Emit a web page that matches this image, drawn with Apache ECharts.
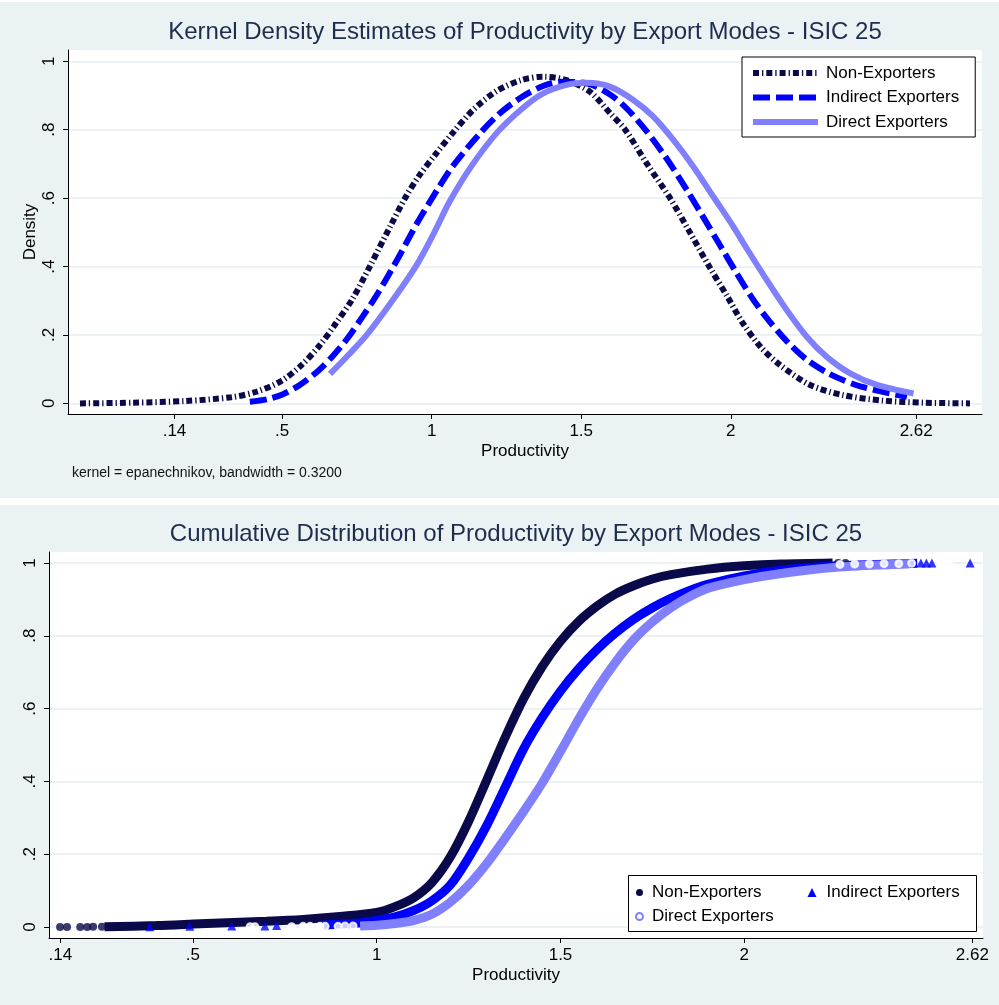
<!DOCTYPE html>
<html>
<head>
<meta charset="utf-8">
<script src="https://cdn.jsdelivr.net/npm/echarts@6/dist/echarts.min.js"></script>
<style>
html,body{margin:0;padding:0;background:#fff;}
#c{width:999px;height:1005px;}
</style>
</head>
<body>
<div id="c"></div>
<script>
// ---- tick values / labels ----
const xTickValues = [0.14, 0.5, 1, 1.5, 2, 2.62];
const xTickLabels = ['.14', '.5', '1', '1.5', '2', '2.62'];
const yTickValues = [0, 0.2, 0.4, 0.6, 0.8, 1];
const yTickLabels = ['0', '.2', '.4', '.6', '.8', '1'];

const seriesNames = ['Non-Exporters', 'Indirect Exporters', 'Direct Exporters'];

// ---- kernel density estimates [productivity, density] ----
const densNonExporters = [
  [-0.176,0.000],[0.000,0.002],[0.176,0.007],[0.330,0.018],[0.414,0.034],[0.498,0.066],
  [0.565,0.112],[0.626,0.170],[0.682,0.237],[0.735,0.305],[0.793,0.400],[0.860,0.515],
  [0.911,0.600],[0.960,0.668],[1.010,0.725],[1.070,0.790],[1.139,0.858],[1.217,0.913],
  [1.300,0.945],[1.373,0.955],[1.451,0.945],[1.529,0.911],[1.600,0.845],[1.647,0.800],
  [1.720,0.700],[1.797,0.600],[1.860,0.505],[1.928,0.400],[1.990,0.310],[2.040,0.235],
  [2.100,0.165],[2.165,0.112],[2.265,0.054],[2.376,0.024],[2.510,0.008],[2.650,0.002],[2.800,0.000]
];
const densIndirect = [
  [0.392,0.005],[0.450,0.012],[0.503,0.027],[0.559,0.054],[0.620,0.095],[0.671,0.140],
  [0.720,0.192],[0.770,0.255],[0.820,0.322],[0.888,0.425],[0.950,0.525],[1.017,0.622],
  [1.072,0.695],[1.162,0.790],[1.228,0.848],[1.300,0.895],[1.370,0.927],[1.429,0.940],
  [1.518,0.936],[1.596,0.903],[1.652,0.862],[1.719,0.795],[1.786,0.715],[1.853,0.624],
  [1.909,0.543],[1.964,0.462],[2.020,0.380],[2.070,0.310],[2.120,0.250],[2.187,0.182],
  [2.254,0.128],[2.333,0.085],[2.433,0.050],[2.589,0.019]
];
const densDirect = [
  [0.660,0.086],[0.720,0.140],[0.783,0.200],[0.870,0.302],[0.950,0.405],[1.010,0.502],
  [1.060,0.590],[1.130,0.690],[1.217,0.790],[1.300,0.860],[1.373,0.906],[1.451,0.931],
  [1.518,0.937],[1.596,0.926],[1.674,0.887],[1.741,0.838],[1.808,0.770],[1.875,0.692],
  [1.942,0.604],[2.009,0.516],[2.054,0.452],[2.120,0.361],[2.187,0.273],[2.254,0.195],
  [2.321,0.136],[2.399,0.088],[2.489,0.054],[2.611,0.029]
];

// ---- cumulative distributions [productivity, share] ----
const cdfNonExporters = [
  [0.26,0.001],[0.40,0.004],[0.52,0.009],[0.70,0.016],[0.80,0.021],[0.90,0.029],[1.00,0.040],
  [1.05,0.056],[1.10,0.080],[1.15,0.122],[1.20,0.192],[1.25,0.290],[1.30,0.405],[1.35,0.522],
  [1.40,0.628],[1.45,0.715],[1.50,0.785],[1.55,0.840],[1.60,0.882],[1.65,0.915],[1.70,0.938],
  [1.75,0.956],[1.80,0.968],[1.90,0.983],[2.00,0.992],[2.10,0.997],[2.24,1.000]
];
const cdfNonExportersTail = [
  [0.139,0.000],[0.158,0.000],[0.194,0.000],[0.213,0.000],[0.229,0.001],[0.253,0.001],
  [2.255,1.000],[2.275,1.000]
];
const cdfIndirect = [
  [0.85,0.005],[0.95,0.011],[1.00,0.018],[1.05,0.028],[1.10,0.045],[1.15,0.072],[1.20,0.115],
  [1.25,0.190],[1.30,0.280],[1.35,0.385],[1.40,0.490],[1.45,0.575],[1.50,0.648],[1.55,0.710],
  [1.60,0.763],[1.65,0.808],[1.70,0.846],[1.75,0.877],[1.80,0.903],[1.85,0.924],[1.90,0.941],
  [2.00,0.964],[2.10,0.980],[2.25,0.992],[2.40,0.997],[2.47,0.999]
];
const cdfIndirectTail = [
  [0.383,0.001],[0.492,0.002],[0.606,0.003],[0.696,0.003],[0.728,0.004],
  [2.480,1.000],[2.495,1.000],[2.510,1.000],[2.614,1.000]
];
const cdfDirect = [
  [0.955,0.003],[1.00,0.005],[1.05,0.010],[1.10,0.018],[1.15,0.035],[1.20,0.068],[1.25,0.115],
  [1.30,0.175],[1.35,0.245],[1.40,0.318],[1.45,0.395],[1.50,0.482],[1.55,0.572],[1.60,0.655],
  [1.65,0.728],[1.70,0.790],[1.75,0.838],[1.80,0.877],[1.85,0.907],[1.90,0.930],[2.00,0.954],
  [2.10,0.971],[2.25,0.988],[2.40,0.996],[2.45,0.998]
];
const cdfDirectTail = [
  [0.656,0.001],[0.669,0.001],[0.769,0.001],[0.800,0.002],[0.819,0.002],[0.846,0.002],
  [0.860,0.002],[0.895,0.002],[0.914,0.003],[0.936,0.003],
  [2.26,0.996],[2.30,0.997],[2.34,0.997],[2.38,0.998],[2.42,0.998],[2.455,0.999],
  [2.533,0.999],[2.555,1.000]
];

const cNon = '#0a0a4a', cInd = '#0000ff', cDir = '#8080ff';
const bgPanel = '#eaf2f3';
const font = 'Liberation Sans, Arial, Helvetica, sans-serif';

function pick(vals, labels) {
  return function (v) {
    for (let i = 0; i < vals.length; i++) if (Math.abs(vals[i] - v) < 1e-7) return labels[i];
    return '';
  };
}

function xAxisCfg(gridIndex, min, max, nameGap) {
  return {
    type: 'value', gridIndex: gridIndex, min: min, max: max,
    name: 'Productivity', nameLocation: 'middle', nameGap: nameGap,
    nameTextStyle: { fontSize: 17, color: '#000', fontFamily: font },
    axisLine: { show: true, onZero: false, lineStyle: { color: '#000', width: 1 } },
    axisTick: { show: true, length: 5, customValues: xTickValues, lineStyle: { color: '#000' } },
    axisLabel: { customValues: xTickValues, formatter: pick(xTickValues, xTickLabels),
      fontSize: 17, color: '#000', fontFamily: font, margin: 9 },
    splitLine: { show: false }
  };
}
function yAxisCfg(gridIndex, min, max, name, margin) {
  return {
    type: 'value', gridIndex: gridIndex, min: min, max: max,
    name: name, nameLocation: 'middle', nameGap: 29, nameMoveOverlap: false,
    nameTextStyle: { fontSize: 17, color: '#000', fontFamily: font },
    axisLine: { show: true, onZero: false, lineStyle: { color: '#000', width: 1 } },
    axisTick: { show: true, length: 5, customValues: yTickValues, lineStyle: { color: '#000' } },
    axisLabel: { customValues: yTickValues, formatter: pick(yTickValues, yTickLabels),
      rotate: 90, fontSize: 17, color: '#000', fontFamily: font, margin: margin },
    splitLine: { show: true, lineStyle: { color: '#e6eef0', width: 1.5 } }
  };
}

const chart = echarts.init(document.getElementById('c'), null, { renderer: 'canvas' });
chart.setOption({
  backgroundColor: '#ffffff',
  animation: false,
  graphic: [
    { type: 'rect', z: -10, shape: { x: 0, y: 2, width: 999, height: 496 }, style: { fill: bgPanel } },
    { type: 'rect', z: -10, shape: { x: 0, y: 505, width: 999, height: 500 }, style: { fill: bgPanel } },
    { type: 'rect', z: 3, shape: { x: 628.5, y: 875.5, width: 348, height: 56 },
      style: { fill: '#fff', stroke: '#000', lineWidth: 1 } }
  ],
  title: [
    { text: 'Kernel Density Estimates of Productivity by Export Modes - ISIC 25',
      left: 525, top: 20, textAlign: 'center', padding: 0,
      textStyle: { fontSize: 24, fontWeight: 'normal', color: '#1f2d4d', fontFamily: font } },
    { text: 'Cumulative Distribution of Productivity by Export Modes - ISIC 25',
      left: 516, top: 522, textAlign: 'center', padding: 0,
      textStyle: { fontSize: 24, fontWeight: 'normal', color: '#1f2d4d', fontFamily: font } },
    { text: 'kernel = epanechnikov, bandwidth = 0.3200', left: 72, top: 466, padding: 0,
      textStyle: { fontSize: 14, fontWeight: 'normal', color: '#111', fontFamily: font } }
  ],
  legend: [
    { orient: 'vertical', left: 742, top: 57, padding: [7.5, 16, 6.5, 8],
      itemWidth: 65, itemHeight: 14, itemGap: 7.5, itemTextGap: 11,
      backgroundColor: '#fff', borderColor: '#000', borderWidth: 1, borderRadius: 0,
      data: seriesNames, selectedMode: false,
      lineStyle: { width: 'inherit' }, itemStyle: { opacity: 0 },
      textStyle: { fontSize: 17, color: '#000', fontFamily: font, padding: [0, 0, 0, 3] } },
    { orient: 'vertical', left: 635, top: 884, padding: 0, z: 5,
      itemWidth: 7, itemHeight: 7, itemGap: 7, itemTextGap: 10.5, selectedMode: false,
      data: [{ name: 'Non-Exporters ', icon: 'circle' }, { name: 'Direct Exporters ', icon: 'emptyCircle' }],
      textStyle: { fontSize: 17, color: '#000', fontFamily: font, padding: [0, 0, 0, 4] } },
    { orient: 'vertical', left: 807.5, top: 884, padding: 0, z: 5,
      itemWidth: 9, itemHeight: 9, itemTextGap: 10.5, selectedMode: false,
      data: [{ name: 'Indirect Exporters ', icon: 'triangle' }],
      textStyle: { fontSize: 17, color: '#000', fontFamily: font, padding: [0, 0, 0, 5] } }
  ],
  grid: [
    { left: 68, top: 50, width: 914, height: 364, show: true, backgroundColor: '#fff', borderWidth: 0 },
    { left: 49, top: 552, width: 934, height: 386, show: true, backgroundColor: '#fff', borderWidth: 0 }
  ],
  xAxis: [ xAxisCfg(0, -0.216, 2.84, 29), xAxisCfg(1, 0.109, 2.649, 29) ],
  yAxis: [ yAxisCfg(0, -0.031, 1.033, 'Density', 10), yAxisCfg(1, -0.030, 1.030, '', 10) ],
  series: [
    { name: seriesNames[0], type: 'line', xAxisIndex: 0, yAxisIndex: 0, data: densNonExporters,
      symbol: 'none', smooth: 0.3, z: 2,
      lineStyle: { color: cNon, width: 6, type: [6, 3, 1.3, 3], cap: 'butt' }, itemStyle: { color: cNon } },
    { name: seriesNames[1], type: 'line', xAxisIndex: 0, yAxisIndex: 0, data: densIndirect,
      symbol: 'none', smooth: 0.3, z: 3,
      lineStyle: { color: cInd, width: 6, type: [17, 6], cap: 'butt' }, itemStyle: { color: cInd } },
    { name: seriesNames[2], type: 'line', xAxisIndex: 0, yAxisIndex: 0, data: densDirect,
      symbol: 'none', smooth: 0.3, z: 4,
      lineStyle: { color: cDir, width: 6, type: 'solid', cap: 'butt' }, itemStyle: { color: cDir } },

    { name: 'Non-Exporters ', type: 'line', xAxisIndex: 1, yAxisIndex: 1, data: cdfNonExporters,
      symbol: 'none', smooth: 0.3, z: 2,
      lineStyle: { color: cNon, width: 9 }, itemStyle: { color: cNon } },
    { name: 'Non-Exporters ', type: 'scatter', xAxisIndex: 1, yAxisIndex: 1, data: cdfNonExportersTail,
      symbol: 'circle', symbolSize: 8, z: 2, itemStyle: { color: cNon } },
    { name: 'Indirect Exporters ', type: 'line', xAxisIndex: 1, yAxisIndex: 1, data: cdfIndirect,
      symbol: 'none', smooth: 0.3, z: 3,
      lineStyle: { color: cInd, width: 9 }, itemStyle: { color: cInd } },
    { name: 'Indirect Exporters ', type: 'scatter', xAxisIndex: 1, yAxisIndex: 1, data: cdfIndirectTail,
      symbol: 'triangle', symbolSize: 9, z: 3, itemStyle: { color: cInd } },
    { name: 'Direct Exporters ', type: 'line', xAxisIndex: 1, yAxisIndex: 1, data: cdfDirect,
      symbol: 'none', smooth: 0.3, z: 4,
      lineStyle: { color: cDir, width: 9 }, itemStyle: { color: cDir } },
    { name: 'Direct Exporters ', type: 'scatter', xAxisIndex: 1, yAxisIndex: 1, data: cdfDirectTail,
      symbol: 'emptyCircle', symbolSize: 7, z: 4,
      itemStyle: { color: '#fff', borderColor: cDir, borderWidth: 1.5 } }
  ]
});
</script>
</body>
</html>
